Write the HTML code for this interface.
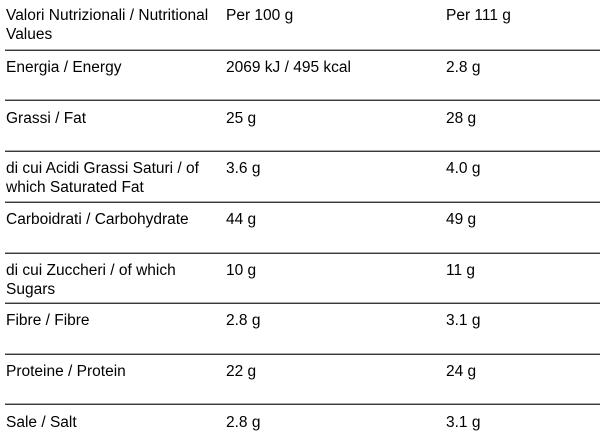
<!DOCTYPE html>
<html>
<head>
<meta charset="utf-8">
<style>
html,body{margin:0;padding:0;background:#fff;}
body{width:600px;height:440px;position:relative;overflow:hidden;font-family:"Liberation Sans",Arial,sans-serif;font-size:15.5px;line-height:19px;color:#000;}
.t{position:absolute;white-space:nowrap;}
.l{position:absolute;left:5px;width:595px;height:1px;background:#3a3a3a;box-shadow:0 -1px 0 #a8a8a8;}
</style>
</head>
<body>
<div class="t" style="left:6px;top:6px;">Valori Nutrizionali / Nutritional<br>Values</div>
<div class="t" style="left:226px;top:6px;">Per 100 g</div>
<div class="t" style="left:446px;top:6px;">Per 111 g</div>

<div class="l" style="top:50px;"></div>
<div class="t" style="left:6px;top:58px;">Energia / Energy</div>
<div class="t" style="left:226px;top:58px;">2069 kJ / 495 kcal</div>
<div class="t" style="left:446px;top:58px;">2.8 g</div>

<div class="l" style="top:100px;"></div>
<div class="t" style="left:6px;top:108.6px;">Grassi / Fat</div>
<div class="t" style="left:226px;top:108.6px;">25 g</div>
<div class="t" style="left:446px;top:108.6px;">28 g</div>

<div class="l" style="top:151px;"></div>
<div class="t" style="left:6px;top:159.3px;">di cui Acidi Grassi Saturi / of<br>which Saturated Fat</div>
<div class="t" style="left:226px;top:159.3px;">3.6 g</div>
<div class="t" style="left:446px;top:159.3px;">4.0 g</div>

<div class="l" style="top:201.5px;"></div>
<div class="t" style="left:6px;top:209.9px;">Carboidrati / Carbohydrate</div>
<div class="t" style="left:226px;top:209.9px;">44 g</div>
<div class="t" style="left:446px;top:209.9px;">49 g</div>

<div class="l" style="top:252.5px;"></div>
<div class="t" style="left:6px;top:260.6px;">di cui Zuccheri / of which<br>Sugars</div>
<div class="t" style="left:226px;top:260.6px;">10 g</div>
<div class="t" style="left:446px;top:260.6px;">11 g</div>

<div class="l" style="top:303px;"></div>
<div class="t" style="left:6px;top:311.3px;">Fibre / Fibre</div>
<div class="t" style="left:226px;top:311.3px;">2.8 g</div>
<div class="t" style="left:446px;top:311.3px;">3.1 g</div>

<div class="l" style="top:353.5px;"></div>
<div class="t" style="left:6px;top:361.9px;">Proteine / Protein</div>
<div class="t" style="left:226px;top:361.9px;">22 g</div>
<div class="t" style="left:446px;top:361.9px;">24 g</div>

<div class="l" style="top:404px;"></div>
<div class="t" style="left:6px;top:412.6px;">Sale / Salt</div>
<div class="t" style="left:226px;top:412.6px;">2.8 g</div>
<div class="t" style="left:446px;top:412.6px;">3.1 g</div>
</body>
</html>
